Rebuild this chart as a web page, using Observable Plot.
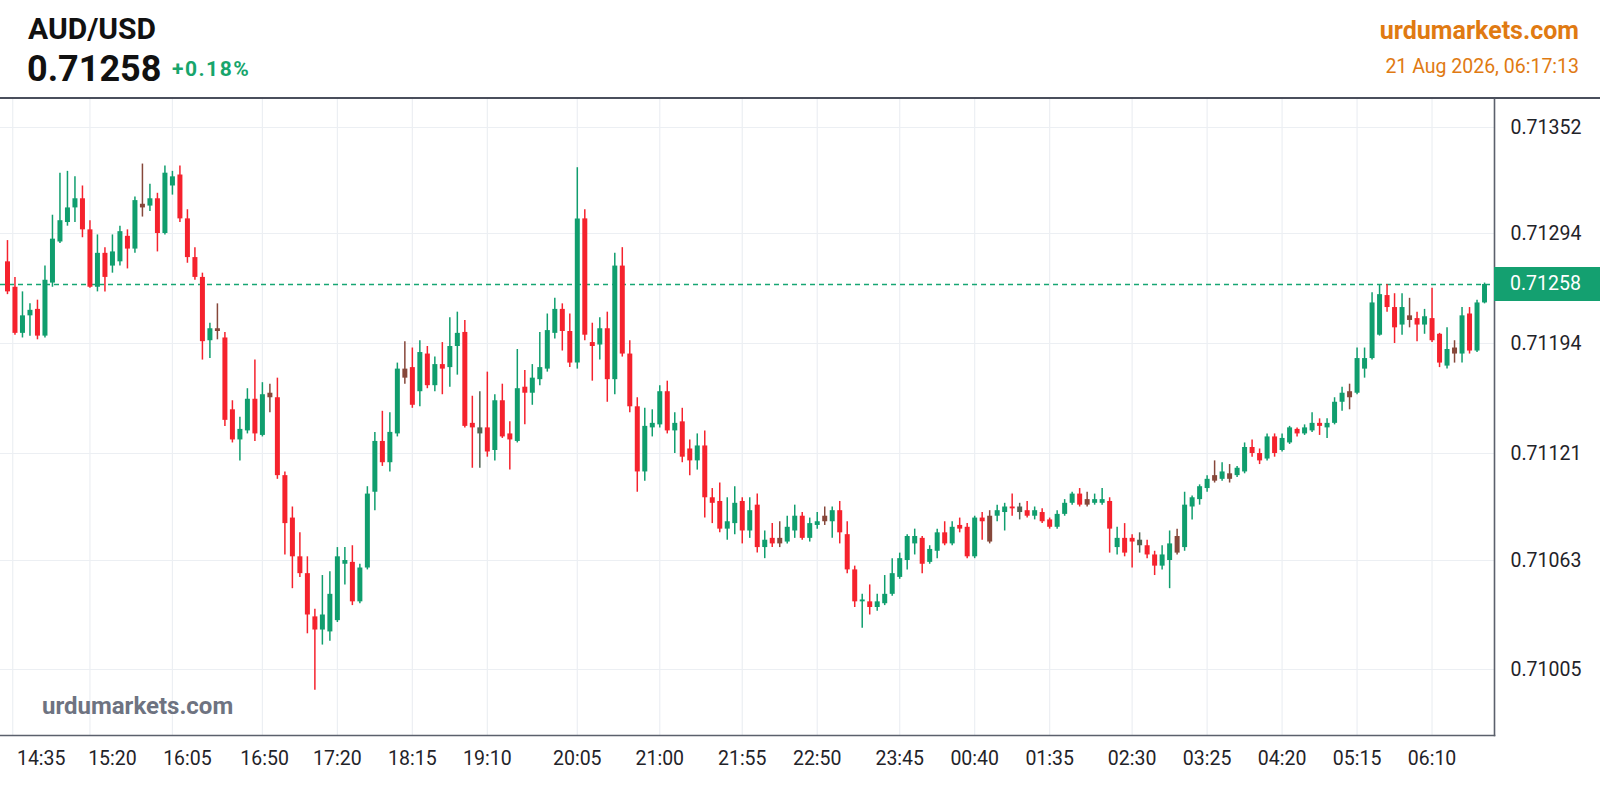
<!DOCTYPE html>
<html>
<head>
<meta charset="utf-8">
<script src="https://cdn.jsdelivr.net/npm/d3@7"></script>
<script src="https://cdn.jsdelivr.net/npm/@observablehq/plot@0.6"></script>
<style>
  html, body { margin: 0; padding: 0; background: #ffffff; }
  #wrap { position: relative; width: 1600px; height: 800px; overflow: hidden; font-family: Roboto, "Noto Sans", sans-serif; }
  #header { position: absolute; left: 0; top: 0; width: 1600px; height: 97px; border-bottom: 2px solid #4a4f5c; }
  .t { position: absolute; white-space: nowrap; line-height: 1; }
  #chart { position: absolute; left: 0; top: 99px; }
  #tag { position: absolute; left: 1494px; width: 106px; height: 34px; line-height: 34px; background: #14a070; color: #ffffff; font-size: 19.5px; box-sizing: border-box; padding-left: 16px; }
</style>
</head>
<body>
<div id="wrap">
  <div id="header">
    <div class="t" id="sym" style="left:28px;top:14px;font-size:30px;font-weight:700;color:#111111;"></div>
    <div class="t" id="price" style="left:27px;top:51px;font-size:36px;font-weight:700;color:#111111;"></div>
    <div class="t" id="chg" style="left:172px;top:59px;font-size:21px;font-weight:700;color:#17a56c;letter-spacing:1.5px;"></div>
    <div class="t" id="brand" style="right:21px;top:18px;font-size:25px;font-weight:700;color:#e07a12;"></div>
    <div class="t" id="stamp" style="right:21px;top:57px;font-size:19.5px;font-weight:400;color:#e07a12;"></div>
  </div>
  <div id="chart"></div>
  <div class="t" id="wm" style="left:42px;top:694px;font-size:24px;font-weight:700;color:#6e7381;"></div>
  <div id="tag"></div>
</div>
<script>
// ---- header text ----
const symbol = "AUD/USD";
const changePct = 0.0018;
const brand = "urdumarkets.com";
const stamp = "21 Aug 2026, 06:17:13";

// ---- candles (5-minute bars, left to right) ----
const open = [
0.71274,0.71255,0.71205,0.71224,0.71231,0.71202,0.71259,0.71288,0.71300,0.71308,
0.71313,0.71296,0.71255,0.71280,0.71271,0.71274,0.71292,0.71283,0.71310,0.71309,
0.71313,0.71294,0.71320,0.71326,0.71302,0.71277,0.71263,0.71197,0.71210,0.71200,
0.71150,0.71130,0.71136,0.71157,0.71133,0.71161,0.71158,0.71109,0.71086,0.71065,
0.71056,0.71033,0.71026,0.71025,0.71031,0.71061,0.71062,0.71041,0.71059,0.71100,
0.71129,0.71116,0.71134,0.71177,0.71178,0.71162,0.71187,0.71166,0.71180,0.71178,
0.71192,0.71206,0.71141,0.71134,0.71138,0.71123,0.71156,0.71134,0.71129,0.71165,
0.71161,0.71170,0.71177,0.71205,0.71231,0.71207,0.71181,0.71302,0.71195,0.71193,
0.71210,0.71170,0.71271,0.71187,0.71152,0.71111,0.71138,0.71140,0.71162,0.71136,
0.71142,0.71124,0.71117,0.71126,0.71097,0.71095,0.71080,0.71083,0.71095,0.71079,
0.71093,0.71070,0.71075,0.71075,0.71073,0.71079,0.71087,0.71075,0.71082,0.71087,
0.71084,0.71090,0.71077,0.71058,0.71041,0.71041,0.71038,0.71040,0.71045,0.71054,
0.71063,0.71072,0.71075,0.71062,0.71068,0.71078,0.71072,0.71082,0.71081,0.71065,
0.71086,0.71087,0.71087,0.71089,0.71092,0.71089,0.71090,0.71087,0.71089,0.71085,
0.71081,0.71088,0.71094,0.71099,0.71096,0.71094,0.71094,0.71095,0.71070,0.71075,
0.71075,0.71071,0.71071,0.71066,0.71060,0.71063,0.71076,0.71070,0.71092,0.71096,
0.71102,0.71109,0.71107,0.71110,0.71109,0.71111,0.71125,0.71121,0.71118,0.71132,
0.71123,0.71128,0.71137,0.71134,0.71136,0.71141,0.71138,0.71141,0.71155,0.71162,
0.71161,0.71177,0.71184,0.71203,0.71246,0.71233,0.71214,0.71224,0.71221,0.71214,
0.71221,0.71204,0.71179,0.71191,0.71187,0.71226,0.71189,0.71238];

const high = [
0.71289,0.71263,0.71250,0.71237,0.71241,0.71271,0.71304,0.71327,0.71328,0.71325,
0.71320,0.71301,0.71293,0.71284,0.71293,0.71298,0.71296,0.71314,0.71332,0.71321,
0.71316,0.71331,0.71328,0.71331,0.71307,0.71284,0.71266,0.71216,0.71237,0.71206,
0.71156,0.71145,0.71164,0.71183,0.71168,0.71167,0.71171,0.71111,0.71092,0.71078,
0.71065,0.71037,0.71055,0.71057,0.71070,0.71070,0.71071,0.71061,0.71103,0.71135,
0.71149,0.71148,0.71181,0.71196,0.71191,0.71197,0.71192,0.71185,0.71195,0.71222,
0.71228,0.71219,0.71159,0.71162,0.71175,0.71160,0.71167,0.71142,0.71190,0.71176,
0.71180,0.71206,0.71226,0.71243,0.71237,0.71226,0.71330,0.71307,0.71216,0.71222,
0.71228,0.71280,0.71284,0.71197,0.71158,0.71151,0.71150,0.71166,0.71169,0.71148,
0.71151,0.71130,0.71134,0.71136,0.71102,0.71105,0.71097,0.71103,0.71097,0.71097,
0.71099,0.71079,0.71083,0.71084,0.71087,0.71093,0.71089,0.71086,0.71089,0.71092,
0.71092,0.71095,0.71084,0.71060,0.71045,0.71050,0.71045,0.71055,0.71064,0.71067,
0.71077,0.71080,0.71076,0.71071,0.71080,0.71084,0.71084,0.71086,0.71083,0.71087,
0.71089,0.71090,0.71093,0.71094,0.71099,0.71094,0.71095,0.71092,0.71091,0.71086,
0.71090,0.71096,0.71100,0.71102,0.71100,0.71099,0.71102,0.71097,0.71081,0.71083,
0.71077,0.71078,0.71074,0.71068,0.71071,0.71079,0.71080,0.71100,0.71098,0.71104,
0.71109,0.71117,0.71116,0.71115,0.71114,0.71128,0.71130,0.71124,0.71134,0.71134,
0.71134,0.71139,0.71138,0.71140,0.71148,0.71144,0.71144,0.71158,0.71165,0.71167,
0.71191,0.71191,0.71249,0.71257,0.71258,0.71248,0.71248,0.71243,0.71228,0.71231,
0.71254,0.71205,0.71211,0.71197,0.71233,0.71233,0.71241,0.71259];

const low = [
0.71247,0.71203,0.71200,0.71202,0.71198,0.71200,0.71255,0.71287,0.71298,0.71300,
0.71291,0.71254,0.71250,0.71250,0.71266,0.71271,0.71269,0.71280,0.71303,0.71306,
0.71281,0.71293,0.71315,0.71300,0.71273,0.71261,0.71183,0.71184,0.71198,0.71139,
0.71128,0.71117,0.71134,0.71129,0.71132,0.71148,0.71107,0.71066,0.71048,0.71054,
0.71024,0.70994,0.71018,0.71020,0.71030,0.71050,0.71039,0.71040,0.71058,0.71090,
0.71114,0.71111,0.71132,0.71167,0.71151,0.71152,0.71164,0.71162,0.71160,0.71165,
0.71173,0.71138,0.71113,0.71113,0.71119,0.71117,0.71131,0.71112,0.71128,0.71140,
0.71153,0.71166,0.71175,0.71199,0.71189,0.71178,0.71177,0.71197,0.71169,0.71183,
0.71155,0.71160,0.71185,0.71148,0.71100,0.71106,0.71132,0.71138,0.71134,0.71121,
0.71116,0.71109,0.71112,0.71086,0.71083,0.71078,0.71074,0.71077,0.71072,0.71075,
0.71067,0.71064,0.71070,0.71070,0.71072,0.71075,0.71074,0.71073,0.71080,0.71082,
0.71075,0.71072,0.71056,0.71038,0.71027,0.71034,0.71036,0.71039,0.71044,0.71053,
0.71058,0.71066,0.71056,0.71061,0.71064,0.71071,0.71071,0.71078,0.71064,0.71064,
0.71074,0.71072,0.71084,0.71079,0.71087,0.71085,0.71086,0.71085,0.71083,0.71080,
0.71080,0.71087,0.71093,0.71092,0.71092,0.71093,0.71093,0.71067,0.71066,0.71065,
0.71059,0.71067,0.71064,0.71055,0.71058,0.71048,0.71066,0.71068,0.71085,0.71093,
0.71100,0.71105,0.71106,0.71105,0.71108,0.71110,0.71119,0.71115,0.71117,0.71119,
0.71122,0.71127,0.71132,0.71133,0.71135,0.71133,0.71131,0.71140,0.71149,0.71150,
0.71160,0.71171,0.71183,0.71202,0.71228,0.71194,0.71203,0.71211,0.71196,0.71204,
0.71195,0.71178,0.71177,0.71181,0.71181,0.71187,0.71188,0.71237];

const close = [
0.71250,0.71205,0.71224,0.71230,0.71202,0.71261,0.71290,0.71301,0.71308,0.71313,
0.71296,0.71255,0.71280,0.71263,0.71281,0.71295,0.71283,0.71312,0.71308,0.71313,
0.71294,0.71327,0.71325,0.71302,0.71277,0.71263,0.71196,0.71210,0.71207,0.71143,
0.71130,0.71137,0.71157,0.71134,0.71160,0.71158,0.71109,0.71083,0.71065,0.71056,
0.71034,0.71026,0.71034,0.71045,0.71065,0.71063,0.71041,0.71059,0.71099,0.71129,
0.71116,0.71135,0.71177,0.71171,0.71153,0.71188,0.71166,0.71180,0.71177,0.71192,
0.71205,0.71139,0.71138,0.71138,0.71122,0.71156,0.71132,0.71130,0.71164,0.71161,
0.71171,0.71178,0.71208,0.71231,0.71207,0.71181,0.71302,0.71203,0.71192,0.71210,
0.71170,0.71271,0.71187,0.71152,0.71111,0.71139,0.71141,0.71162,0.71136,0.71141,
0.71119,0.71117,0.71126,0.71097,0.71094,0.71080,0.71084,0.71094,0.71079,0.71090,
0.71070,0.71074,0.71072,0.71072,0.71081,0.71087,0.71075,0.71083,0.71084,0.71084,
0.71090,0.71078,0.71058,0.71041,0.71042,0.71038,0.71041,0.71045,0.71056,0.71064,
0.71076,0.71076,0.71061,0.71069,0.71078,0.71072,0.71081,0.71080,0.71065,0.71086,
0.71084,0.71073,0.71090,0.71092,0.71091,0.71092,0.71087,0.71090,0.71084,0.71081,
0.71088,0.71094,0.71099,0.71093,0.71093,0.71096,0.71096,0.71080,0.71075,0.71067,
0.71073,0.71074,0.71066,0.71060,0.71066,0.71072,0.71067,0.71093,0.71097,0.71103,
0.71107,0.71106,0.71111,0.71107,0.71113,0.71125,0.71121,0.71117,0.71132,0.71121,
0.71131,0.71138,0.71134,0.71138,0.71141,0.71139,0.71141,0.71155,0.71161,0.71158,
0.71184,0.71184,0.71238,0.71247,0.71233,0.71211,0.71233,0.71219,0.71214,0.71223,
0.71197,0.71181,0.71190,0.71187,0.71224,0.71189,0.71238,0.71258];

// candles drawn in a muted (dark) tone in the picture
const mutedCandles = [18, 28, 35, 53, 63, 103, 109, 131, 135, 144, 151, 156, 161, 163, 179, 187, 193];

// ---- axes ----
const priceTicks = [0.71352, 0.71294, 0.71194, 0.71121, 0.71063, 0.71005];
const timeLabels = ["14:35","15:20","16:05","16:50","17:20","18:15","19:10","20:05","21:00","21:55",
                    "22:50","23:45","00:40","01:35","02:30","03:25","04:20","05:15","06:10"];
const labelAt = [4.5, 14, 24, 34.3, 44, 54, 64, 76, 87, 98, 108, 119, 129, 139, 150, 160, 170, 180, 190];
const gridAt  = [0.7, 11, 22, 34, 44, 54, 64, 76, 87, 98, 108, 119, 129, 139, 150, 160, 170, 180, 190];

// ---- layout (scale settings) ----
const yAnchors = [0.71005, 0.71063, 0.71121, 0.71194, 0.71258, 0.71294, 0.71352];
const yPixels  = [570, 461, 354, 244, 185, 134, 28];
const xDomain  = [-0.93, 198.33];

const GREEN = "#109e6e", RED = "#f5222d", MUTED_RED = "#86473a", MUTED_GREEN = "#4f6452";
const candles = open.map((o, i) => ({i, open: o, high: high[i], low: low[i], close: close[i], muted: mutedCandles.includes(i)}));
const tone = d => d.muted ? (d.close < d.open ? MUTED_RED : MUTED_GREEN) : (d.close < d.open ? RED : GREEN);
const lastClose = close[close.length - 1];
const fmt = d3.format(".5f");
const labelMap = new Map(labelAt.map((v, k) => [v, timeLabels[k]]));

const chart = Plot.plot({
  width: 1600,
  height: 701,
  marginTop: 0,
  marginBottom: 65,
  marginLeft: 0,
  marginRight: 106,
  style: {fontFamily: "Roboto, 'Noto Sans', sans-serif", fontSize: "19.5px", color: "#1f2329", background: "transparent", overflow: "visible"},
  x: {domain: xDomain, axis: null},
  y: {type: "linear", domain: yAnchors, range: yPixels, axis: null},
  color: {type: "identity"},
  marks: [
    Plot.gridX(gridAt, {stroke: "#eceff3", strokeOpacity: 1, strokeWidth: 1.2}),
    Plot.gridY(priceTicks, {stroke: "#eceff3", strokeOpacity: 1, strokeWidth: 1.2}),
    Plot.ruleY([lastClose], {stroke: "#17a673", strokeWidth: 1.5, strokeDasharray: "5,4"}),
    Plot.ruleX(candles, {x: "i", y1: "low", y2: "high", stroke: tone, strokeWidth: 1.5}),
    Plot.ruleX(candles, {x: "i", y1: "open", y2: "close", stroke: tone, strokeWidth: 5}),
    Plot.axisY(priceTicks, {anchor: "right", tickSize: 0, tickPadding: 16, tickFormat: fmt, label: null}),
    Plot.axisX(labelAt, {anchor: "bottom", tickSize: 0, tickPadding: 16, tickFormat: d => labelMap.get(d), label: null}),
    Plot.frame({anchor: "bottom", stroke: "#5b606c", strokeWidth: 1.6}),
    Plot.frame({anchor: "right", stroke: "#5b606c", strokeWidth: 1.6})
  ]
});
document.getElementById("chart").appendChild(chart);

// header and overlays
document.getElementById("sym").textContent = symbol;
document.getElementById("price").textContent = fmt(lastClose);
document.getElementById("chg").textContent = (changePct >= 0 ? "+" : "") + d3.format(".2%")(changePct);
document.getElementById("brand").textContent = brand;
document.getElementById("stamp").textContent = stamp;
document.getElementById("wm").textContent = brand;
const tag = document.getElementById("tag");
tag.textContent = fmt(lastClose);
tag.style.top = (99 + chart.scale("y").apply(lastClose) - 17) + "px";
</script>
</body>
</html>
